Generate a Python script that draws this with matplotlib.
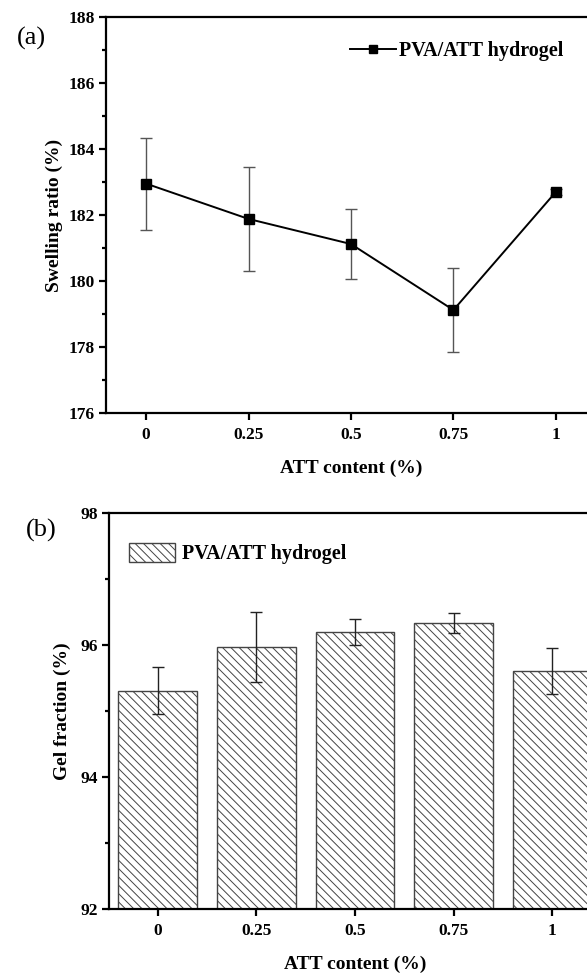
import matplotlib
matplotlib.use("Agg")
import matplotlib.pyplot as plt
from matplotlib.ticker import MultipleLocator
from matplotlib.lines import Line2D

plt.rcParams['font.family'] = ['Liberation Serif', 'DejaVu Serif']
plt.rcParams['hatch.linewidth'] = 0.7

# ATT content (%) and measurements
att_content = [0, 0.25, 0.5, 0.75, 1]
tick_labels = ['0', '0.25', '0.5', '0.75', '1']

swelling_ratio = [182.95, 181.88, 181.12, 179.12, 182.70]
swelling_err = [1.39, 1.58, 1.06, 1.26, 0.10]

gel_fraction = [95.31, 95.97, 96.20, 96.33, 95.60]
gel_err = [0.36, 0.53, 0.20, 0.15, 0.35]

series_name = 'PVA/ATT hydrogel'

fig = plt.figure(figsize=(5.87, 9.74), dpi=100)

TICK_SIZE = 12.5
LABEL_SIZE = 14
LEGEND_SIZE = 14.5

def style_axes(ax):
    for sp in ax.spines.values():
        sp.set_linewidth(1.6)
    ax.tick_params(axis='both', which='major', direction='out', length=5, width=1.6,
                   labelsize=TICK_SIZE)
    ax.tick_params(axis='y', which='minor', direction='out', length=3, width=1.6)
    ax.tick_params(axis='x', which='minor', length=0)
    ax.tick_params(axis='x', pad=5)
    ax.tick_params(axis='y', pad=3)
    for lab in ax.get_xticklabels() + ax.get_yticklabels():
        lab.set_fontweight('bold')

# (a) swelling ratio
ax1 = fig.add_axes([106/587, 1-413/974, 490/587, 396/974])
ax1.errorbar(att_content, swelling_ratio, yerr=swelling_err, color='black', lw=1.4,
             marker='s', ms=6.5, ecolor='#555555', elinewidth=1.0, capsize=4, capthick=1.0)
ax1.set_xlim(-0.098, 1.098)
ax1.set_ylim(176, 188)
ax1.set_xticks(att_content)
ax1.set_xticklabels(tick_labels)
ax1.yaxis.set_major_locator(MultipleLocator(2))
ax1.yaxis.set_minor_locator(MultipleLocator(1))
style_axes(ax1)
ax1.set_xlabel('ATT content (%)', fontsize=LABEL_SIZE, fontweight='bold', labelpad=12)
ax1.set_ylabel('Swelling ratio (%)', fontsize=LABEL_SIZE, fontweight='bold', labelpad=4)
line_handle = Line2D([], [], color='black', lw=1.4, marker='s', ms=5.5)
ax1.legend([line_handle], [series_name], loc='upper left', bbox_to_anchor=(0.497, 0.94),
           frameon=False, prop={'weight': 'bold', 'size': LEGEND_SIZE}, handlelength=2.3,
           handletextpad=0.15, borderaxespad=0, borderpad=0)
fig.text(17/587, 1-38/974, '(a)', fontsize=19, ha='left', va='center')

# (b) gel fraction
ax2 = fig.add_axes([109/587, 1-909/974, 492/587, 396/974])
ax2.bar(att_content, gel_fraction, width=0.2, color='white', edgecolor='#444444',
        linewidth=1.0, hatch='\\\\\\\\', label=series_name)
ax2.errorbar(att_content, gel_fraction, yerr=gel_err, fmt='none', ecolor='#222222',
             elinewidth=1.0, capsize=4, capthick=1.0)
ax2.set_xlim(-0.124, 1.124)
ax2.set_ylim(92, 98)
ax2.set_xticks(att_content)
ax2.set_xticklabels(tick_labels)
ax2.yaxis.set_major_locator(MultipleLocator(2))
ax2.yaxis.set_minor_locator(MultipleLocator(1))
style_axes(ax2)
ax2.set_xlabel('ATT content (%)', fontsize=LABEL_SIZE, fontweight='bold', labelpad=12)
ax2.set_ylabel('Gel fraction (%)', fontsize=LABEL_SIZE, fontweight='bold', labelpad=7)
ax2.legend(loc='upper left', bbox_to_anchor=(0.041, 0.925), frameon=False,
           prop={'weight': 'bold', 'size': LEGEND_SIZE}, handlelength=2.3, handleheight=1.1,
           handletextpad=0.3, borderaxespad=0, borderpad=0)
fig.text(26/587, 1-530/974, '(b)', fontsize=19, ha='left', va='center')

fig.savefig('out.png', dpi=100)
